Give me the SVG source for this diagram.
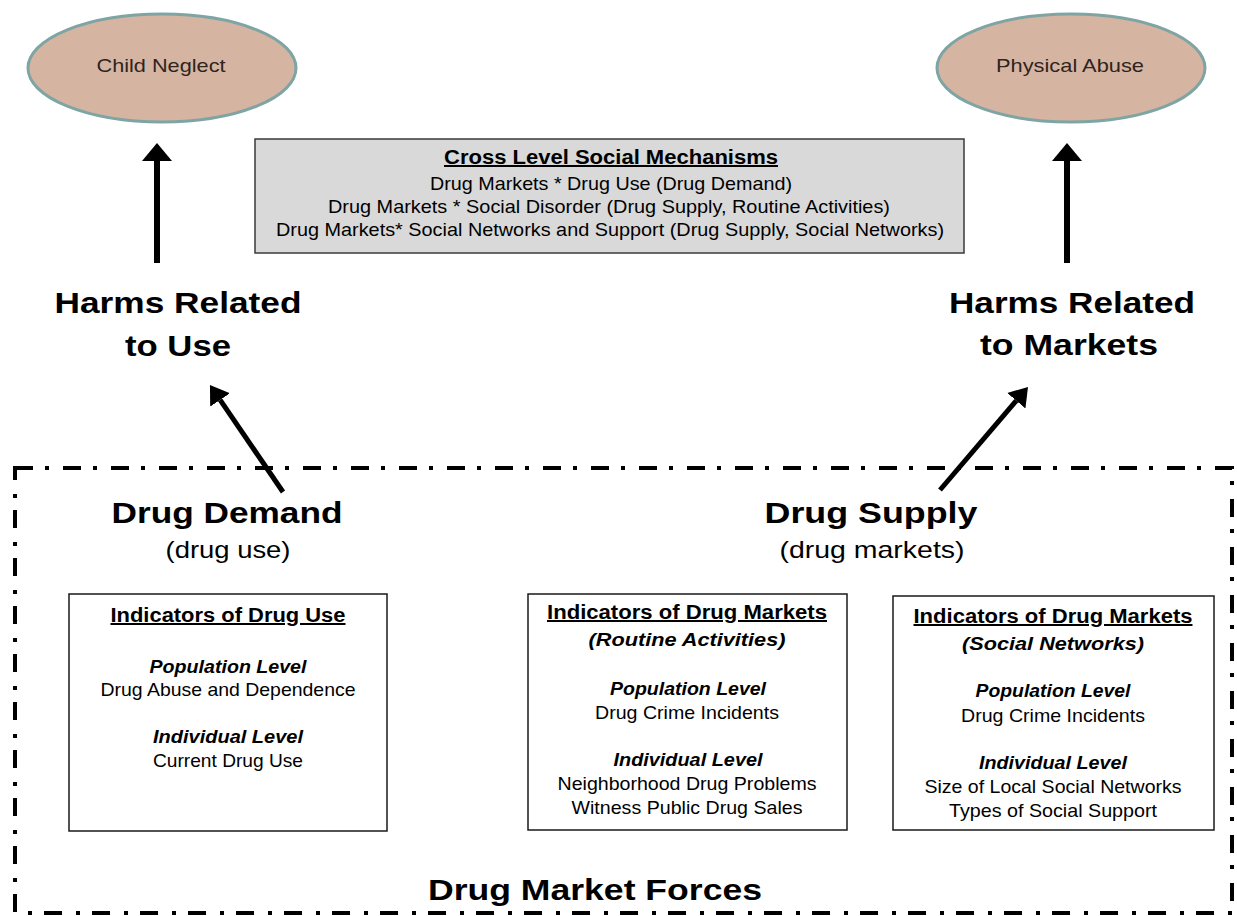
<svg xmlns="http://www.w3.org/2000/svg" width="1237" height="916" viewBox="0 0 1237 916">
<style>
text{font-family:"Liberation Sans",Arial,sans-serif;fill:#000;text-anchor:middle}
.oval{fill:#d6b4a2;stroke:#7ea4a4;stroke-width:3}
.otxt{font-size:19px;fill:#2e2420}
.gray{fill:#d9d9d9;stroke:#3a3a3a;stroke-width:1.5}
.box{fill:#fff;stroke:#1a1a1a;stroke-width:1.5}
.t{font-size:20px;font-weight:bold;text-decoration:underline}
.n{font-size:18.5px}
.bi{font-size:18.5px;font-weight:bold;font-style:italic}
.big{font-size:30px;font-weight:bold}
.sub{font-size:24px}
.arr{stroke:#000;fill:none}
.border{fill:none;stroke:#000;stroke-width:4;stroke-dasharray:18 12 4 14}
</style>
<defs>
<marker id="headV" markerUnits="userSpaceOnUse" markerWidth="18" markerHeight="30" refX="0" refY="15" orient="auto" viewBox="0 0 18 30">
<path d="M0,0 L18,15 L0,30 Z" fill="#000"/>
</marker>
<marker id="headD" markerUnits="userSpaceOnUse" markerWidth="18" markerHeight="24" refX="0" refY="12" orient="auto" viewBox="0 0 18 24">
<path d="M0,0 L18,12 L0,24 Z" fill="#000"/>
</marker>
</defs>
<rect width="1237" height="916" fill="#fff"/>

<g id="market-forces">
<path class="border" d="M15,468 H1232 V913 H15 Z"/>
<text class="big" x="595" y="900" textLength="334" lengthAdjust="spacingAndGlyphs">Drug Market Forces</text>
</g>

<g id="child-neglect">
<ellipse class="oval" cx="162" cy="68" rx="134" ry="54"/>
<text class="otxt" x="161" y="72" textLength="129" lengthAdjust="spacingAndGlyphs">Child Neglect</text>
</g>

<g id="physical-abuse">
<ellipse class="oval" cx="1071" cy="68" rx="134" ry="54"/>
<text class="otxt" x="1070" y="72" textLength="148" lengthAdjust="spacingAndGlyphs">Physical Abuse</text>
</g>

<g id="cross-level">
<rect class="gray" x="255" y="139" width="709" height="114"/>
<text class="t" x="611" y="164" textLength="334" lengthAdjust="spacingAndGlyphs">Cross Level Social Mechanisms</text>
<text class="n" x="611" y="190" textLength="362" lengthAdjust="spacingAndGlyphs">Drug Markets * Drug Use (Drug Demand)</text>
<text class="n" x="609" y="213" textLength="562" lengthAdjust="spacingAndGlyphs">Drug Markets * Social Disorder (Drug Supply, Routine Activities)</text>
<text class="n" x="610" y="236" textLength="668" lengthAdjust="spacingAndGlyphs">Drug Markets* Social Networks and Support (Drug Supply, Social Networks)</text>
</g>

<g id="harms-use">
<text class="big" x="178" y="313" textLength="247" lengthAdjust="spacingAndGlyphs">Harms Related</text>
<text class="big" x="178" y="356" textLength="106" lengthAdjust="spacingAndGlyphs">to Use</text>
</g>

<g id="harms-markets">
<text class="big" x="1072" y="313" textLength="246" lengthAdjust="spacingAndGlyphs">Harms Related</text>
<text class="big" x="1069" y="355" textLength="178" lengthAdjust="spacingAndGlyphs">to Markets</text>
</g>

<g id="drug-demand">
<text class="big" x="227" y="523" textLength="231" lengthAdjust="spacingAndGlyphs">Drug Demand</text>
<text class="sub" x="228" y="558" textLength="125" lengthAdjust="spacingAndGlyphs">(drug use)</text>
</g>

<g id="drug-supply">
<text class="big" x="871" y="523" textLength="213" lengthAdjust="spacingAndGlyphs">Drug Supply</text>
<text class="sub" x="872" y="558" textLength="185" lengthAdjust="spacingAndGlyphs">(drug markets)</text>
</g>

<g id="indicators-use">
<rect class="box" x="69" y="594" width="318" height="237"/>
<text class="t" x="228" y="622" textLength="235" lengthAdjust="spacingAndGlyphs">Indicators of Drug Use</text>
<text class="bi" x="228" y="673" textLength="157" lengthAdjust="spacingAndGlyphs">Population Level</text>
<text class="n" x="228" y="696" textLength="255" lengthAdjust="spacingAndGlyphs">Drug Abuse and Dependence</text>
<text class="bi" x="228" y="743" textLength="150" lengthAdjust="spacingAndGlyphs">Individual Level</text>
<text class="n" x="228" y="767" textLength="150" lengthAdjust="spacingAndGlyphs">Current Drug Use</text>
</g>

<g id="indicators-routine">
<rect class="box" x="528" y="594" width="319" height="236"/>
<text class="t" x="687" y="619" textLength="280" lengthAdjust="spacingAndGlyphs">Indicators of Drug Markets</text>
<text class="bi" x="687" y="646" textLength="197" lengthAdjust="spacingAndGlyphs">(Routine Activities)</text>
<text class="bi" x="688" y="695" textLength="156" lengthAdjust="spacingAndGlyphs">Population Level</text>
<text class="n" x="687" y="719" textLength="184" lengthAdjust="spacingAndGlyphs">Drug Crime Incidents</text>
<text class="bi" x="688" y="766" textLength="149" lengthAdjust="spacingAndGlyphs">Individual Level</text>
<text class="n" x="687" y="790" textLength="259" lengthAdjust="spacingAndGlyphs">Neighborhood  Drug Problems</text>
<text class="n" x="687" y="814" textLength="231" lengthAdjust="spacingAndGlyphs">Witness Public Drug Sales</text>
</g>

<g id="indicators-networks">
<rect class="box" x="893" y="596" width="321" height="234"/>
<text class="t" x="1053" y="623" textLength="279" lengthAdjust="spacingAndGlyphs">Indicators of Drug Markets</text>
<text class="bi" x="1053" y="650" textLength="182" lengthAdjust="spacingAndGlyphs">(Social Networks)</text>
<text class="bi" x="1053" y="697" textLength="155" lengthAdjust="spacingAndGlyphs">Population Level</text>
<text class="n" x="1053" y="722" textLength="184" lengthAdjust="spacingAndGlyphs">Drug Crime Incidents</text>
<text class="bi" x="1053" y="769" textLength="148" lengthAdjust="spacingAndGlyphs">Individual Level</text>
<text class="n" x="1053" y="793" textLength="257" lengthAdjust="spacingAndGlyphs">Size of Local Social Networks</text>
<text class="n" x="1053" y="817" textLength="208" lengthAdjust="spacingAndGlyphs">Types of Social Support</text>
</g>

<g id="connectors">
<line class="arr" x1="157" y1="263" x2="157" y2="161" stroke-width="6" marker-end="url(#headV)"/>
<line class="arr" x1="1067" y1="263" x2="1067" y2="161" stroke-width="6" marker-end="url(#headV)"/>
<line class="arr" x1="283" y1="492" x2="220.1" y2="399.9" stroke-width="5" marker-end="url(#headD)"/>
<line class="arr" x1="940" y1="490" x2="1016.3" y2="400.7" stroke-width="5" marker-end="url(#headD)"/>
</g>
</svg>
